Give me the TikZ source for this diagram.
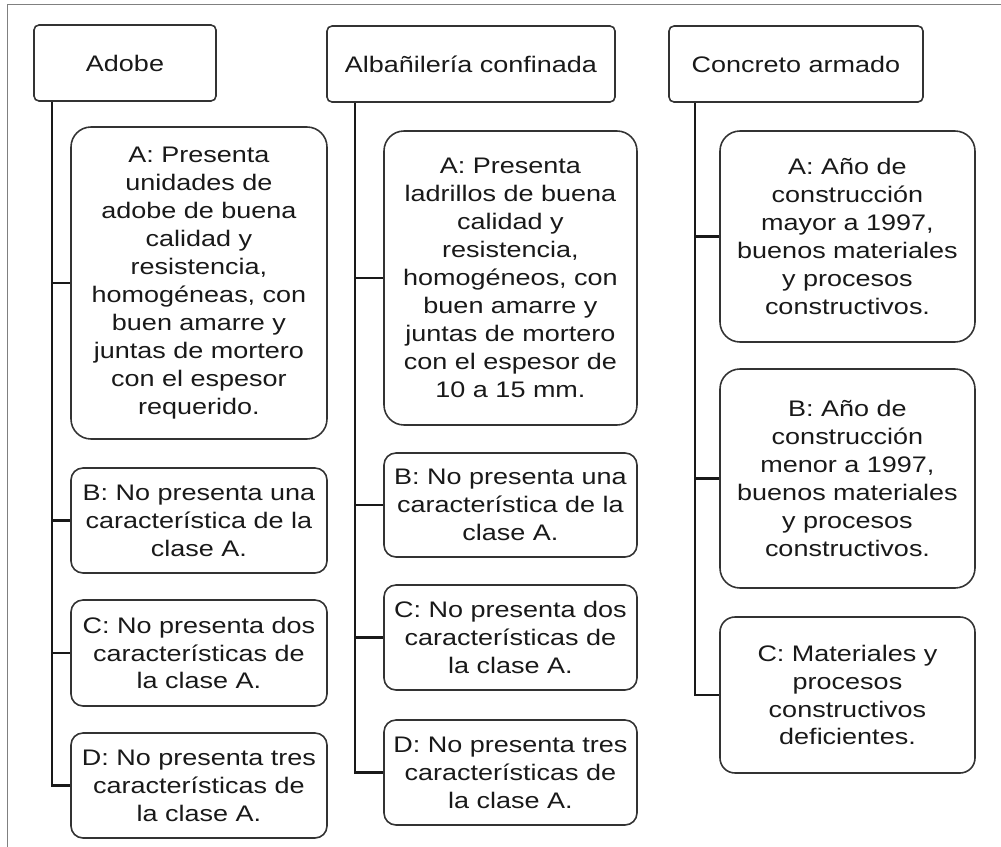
\documentclass[tikz,border=0pt]{standalone}
\usepackage{fontspec}
\setmainfont[FakeStretch=1.2]{Liberation Sans}
\begin{document}
\begin{tikzpicture}[
  head/.style={rectangle, draw=black!80, line width=0.9pt, rounded corners=0.1cm, minimum height=1.52cm},
  bigbox/.style={rectangle, draw=black!80, line width=0.9pt, rounded corners=0.4cm, align=center},
  smallbox/.style={rectangle, draw=black!80, line width=0.9pt, rounded corners=0.24cm, align=center},
  link/.style={draw=black!90, line width=1.3pt},
  every node/.style={font=\fontsize{12.8}{15.9}\selectfont, text=black!90}]
  \useasboundingbox (0, 0) rectangle (20.02, -16.94);
  \draw[gray, line width=0.5pt] (20.02, -0.08) -- (0.14, -0.08) -- (0.14, -16.94);

  \node (adobe) [head, minimum width=3.64cm] at (2.50, -1.26) {Adobe};
  \node (albanileria) [head, minimum width=5.76cm] at (9.42, -1.28) {Albañilería confinada};
  \node (concreto) [head, minimum width=5.08cm] at (15.92, -1.28) {Concreto armado};

  \node (adobeA) [bigbox, minimum width=5.12cm, minimum height=6.24cm] at (3.98, -5.66) {A: Presenta\\unidades de\\adobe de buena\\calidad y\\resistencia,\\homogéneas, con\\buen amarre y\\juntas de mortero\\con el espesor\\requerido.};
  \node (adobeB) [smallbox, minimum width=5.12cm, minimum height=2.10cm] at (3.98, -10.41) {B: No presenta una\\característica de la\\clase A.};
  \node (adobeC) [smallbox, minimum width=5.12cm, minimum height=2.12cm] at (3.98, -13.06) {C: No presenta dos\\características de\\la clase A.};
  \node (adobeD) [smallbox, minimum width=5.12cm, minimum height=2.10cm] at (3.98, -15.71) {D: No presenta tres\\características de\\la clase A.};

  \node (albanileriaA) [bigbox, minimum width=5.06cm, minimum height=5.88cm] at (10.21, -5.56) {A: Presenta\\ladrillos de buena\\calidad y\\resistencia,\\homogéneos, con\\buen amarre y\\juntas de mortero\\con el espesor de\\10 a 15 mm.};
  \node (albanileriaB) [smallbox, minimum width=5.06cm, minimum height=2.08cm] at (10.21, -10.10) {B: No presenta una\\característica de la\\clase A.};
  \node (albanileriaC) [smallbox, minimum width=5.06cm, minimum height=2.10cm] at (10.21, -12.75) {C: No presenta dos\\características de\\la clase A.};
  \node (albanileriaD) [smallbox, minimum width=5.06cm, minimum height=2.10cm] at (10.21, -15.45) {D: No presenta tres\\características de\\la clase A.};

  \node (concretoA) [bigbox, minimum width=5.10cm, minimum height=4.22cm] at (16.95, -4.73) {A: Año de\\construcción\\mayor a 1997,\\buenos materiales\\y procesos\\constructivos.};
  \node (concretoB) [bigbox, minimum width=5.10cm, minimum height=4.38cm] at (16.95, -9.57) {B: Año de\\construcción\\menor a 1997,\\buenos materiales\\y procesos\\constructivos.};
  \node (concretoC) [bigbox, rounded corners=0.3cm, minimum width=5.10cm, minimum height=3.12cm] at (16.95, -13.90) {C: Materiales y\\procesos\\constructivos\\deficientes.};

  \coordinate (adobeline) at ([xshift=0.38cm]adobe.south west);
  \coordinate (albanilerialine) at ([xshift=0.58cm]albanileria.south west);
  \coordinate (concretoline) at ([xshift=0.54cm]concreto.south west);

  \draw[link] (adobeline) |- (adobeD.west);
  \draw[link] (albanilerialine) |- (albanileriaD.west);
  \draw[link] (concretoline) |- (concretoC.west);
  \foreach \k in {A,B,C}
    \draw[link] (adobeline |- adobe\k.west) -- (adobe\k.west);
  \foreach \k in {A,B,C}
    \draw[link] (albanilerialine |- albanileria\k.west) -- (albanileria\k.west);
  \foreach \k in {A,B}
    \draw[link] (concretoline |- concreto\k.west) -- (concreto\k.west);
\end{tikzpicture}
\end{document}
